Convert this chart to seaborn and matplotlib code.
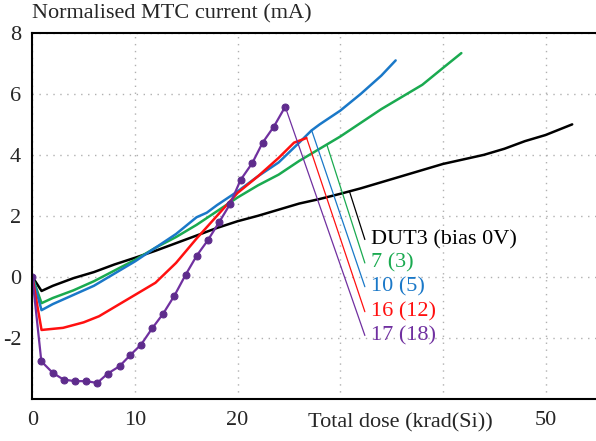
import matplotlib
matplotlib.use("Agg")
import matplotlib.pyplot as plt
import seaborn as sns
import pandas as pd

# ---- data ----
dut3_x = [0, 0.9, 2, 4, 6, 8, 10, 12, 14, 16, 18, 20, 22, 24, 26, 28, 30, 32, 34, 36, 38, 40, 42, 44, 46, 48, 50, 52.6]
dut3_y = [0, -0.47, -0.3, -0.05, 0.15, 0.4, 0.62, 0.85, 1.1, 1.35, 1.6, 1.82, 2.0, 2.2, 2.4, 2.55, 2.72, 2.9, 3.1, 3.3, 3.5, 3.7, 3.85, 4.0, 4.2, 4.45, 4.65, 5.0]

d7_x = [0, 0.9, 2, 4, 6, 8, 10, 12, 14, 16, 18, 20, 22, 24, 26, 28, 30, 32, 34, 36, 38, 40, 41.8]
d7_y = [0, -0.87, -0.7, -0.45, -0.15, 0.2, 0.55, 0.95, 1.3, 1.7, 2.15, 2.6, 3.0, 3.35, 3.8, 4.2, 4.6, 5.05, 5.5, 5.9, 6.3, 6.85, 7.34]

d10_x = [0, 0.9, 2, 4, 6, 8, 10, 12, 14, 16, 17, 18, 20, 22, 24, 26, 27.2, 28, 30, 32, 34, 35.4]
d10_y = [0, -1.1, -0.9, -0.6, -0.3, 0.1, 0.5, 0.95, 1.4, 1.95, 2.1, 2.35, 2.8, 3.3, 3.75, 4.4, 4.8, 5.0, 5.45, 6.0, 6.6, 7.1]

d16_x = [0, 0.9, 3, 5, 6.5, 8, 10, 12, 14, 16, 18, 20, 22, 24, 25.5, 26.7]
d16_y = [0, -1.75, -1.68, -1.5, -1.3, -1.0, -0.6, -0.2, 0.45, 1.25, 2.0, 2.75, 3.3, 3.9, 4.4, 4.55]

d17_x = [0, 0.88, 2.0, 3.05, 4.18, 5.25, 6.32, 7.36, 8.5, 9.53, 10.6, 11.67, 12.74, 13.85, 14.95, 16.02, 17.09, 18.19, 19.26, 20.3, 21.43, 22.44, 23.54, 24.64]
d17_y = [0, -2.78, -3.16, -3.38, -3.43, -3.43, -3.49, -3.18, -2.94, -2.58, -2.23, -1.70, -1.22, -0.62, 0.07, 0.69, 1.19, 1.78, 2.38, 3.18, 3.73, 4.40, 4.93, 5.58]

labels = ["DUT3 (bias 0V)", "7 (3)", "10 (5)", "16 (12)", "17 (18)"]
label_y = [1.22, 0.45, -0.33, -1.15, -1.93]
leader_start_x = [30.9, 28.7, 27.2, 26.7, 24.64]
leader_start_y = [2.80, 4.33, 4.82, 4.58, 5.58]

xticks = [0, 10, 20, 30, 40, 50]
xtick_labels = ["0", "10", "20", "", "", "50"]
yticks = [-4, -2, 0, 2, 4, 6, 8]
ytick_labels = ["", "-2", "0", "2", "4", "6", "8"]

colors = ["#000000", "#1aaa50", "#1a78c8", "#ff1010", "#7030a0"]

# ---- plotting ----
sns.set_style("white")
plt.rcParams["font.family"] = ["Liberation Serif", "DejaVu Serif"]
plt.rcParams["font.size"] = 16

fig = plt.figure(figsize=(5.96, 4.41), dpi=100)
ax = fig.add_axes([32.3 / 596, 1 - 398.5 / 441, 1 - 32.3 / 596 + 0.01, (398.5 - 33) / 441])

series = [(dut3_x, dut3_y), (d7_x, d7_y), (d10_x, d10_y), (d16_x, d16_y), (d17_x, d17_y)]
for i, ((xs, ys), c) in enumerate(zip(series, colors)):
    df = pd.DataFrame({"x": xs, "y": ys})
    if i == 4:
        sns.lineplot(data=df, x="x", y="y", ax=ax, color=c, lw=1.6,
                     marker="o", markersize=5, markerfacecolor="#5e2c8c",
                     markeredgecolor="#5e2c8c", sort=False, estimator=None)
    else:
        sns.lineplot(data=df, x="x", y="y", ax=ax, color=c, lw=1.8,
                     sort=False, estimator=None)

# leader lines and labels
for lab, ly, sx, sy, c in zip(labels, label_y, leader_start_x, leader_start_y, colors):
    ax.plot([sx, 32.4], [sy, ly], color=c, lw=0.9)
    ax.text(33.0, ly, lab, color=c, ha="left", va="center", fontsize=16)

ax.set_xlim(0, 55.5)
ax.set_ylim(-4, 8)
ax.set_xticks(xticks)
ax.set_xticklabels(xtick_labels)
ax.set_yticks(yticks)
ax.set_yticklabels(ytick_labels)
ax.tick_params(axis="both", length=0, labelsize=16)
ax.tick_params(axis="y", pad=8)
ax.tick_params(axis="x", pad=9)
ax.grid(True, color="#b0b0b0", linestyle=(0, (1, 4)), lw=1.0)
ax.set_xlabel("")
ax.set_ylabel("")
for s in ["left", "bottom", "top"]:
    ax.spines[s].set_color("black")
    ax.spines[s].set_linewidth(1.5)
ax.spines["right"].set_visible(False)

fig.text(308 / 596, 1 - 427 / 441, "Total dose (krad(Si))", ha="left", va="baseline", fontsize=16)
fig.text(32 / 596, 1 - 18 / 441, "Normalised MTC current (mA)", ha="left", va="baseline", fontsize=16)

fig.savefig("out.png", dpi=100)
